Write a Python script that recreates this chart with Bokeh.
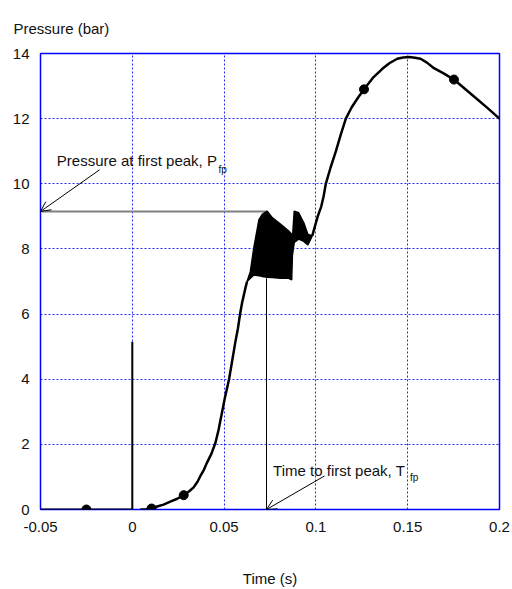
from bokeh.plotting import figure
from bokeh.models import Range1d, FixedTicker, Label, Arrow, OpenHead
from bokeh.embed import file_html
from bokeh.resources import INLINE

# ---- data ----
pre_t = [-0.05, 0.0, 0.0, 0.0]
pre_p = [0.0, 0.0, 5.15, 0.0]

rise_t = [0.0044, 0.0075, 0.0102, 0.0135, 0.017, 0.0207, 0.0245, 0.028, 0.031, 0.0334,
          0.0355, 0.0371, 0.039, 0.0407, 0.043, 0.0453, 0.047, 0.0488, 0.0505, 0.0527,
          0.0545, 0.056, 0.0575, 0.0587, 0.0598, 0.0609, 0.0617, 0.0625]
rise_p = [0.0, 0.01, 0.04, 0.09, 0.15, 0.24, 0.33, 0.44, 0.56, 0.68,
          0.85, 1.03, 1.22, 1.44, 1.7, 2.05, 2.45, 2.96, 3.45, 4.0,
          4.6, 5.1, 5.55, 6.0, 6.35, 6.62, 6.82, 7.0]

band_t = [0.0625, 0.0643, 0.0662, 0.069, 0.0708, 0.0735, 0.0762, 0.0807, 0.0852, 0.0868,
          0.0872, 0.0882, 0.0906, 0.0934, 0.0956, 0.098]
band_hi = [7.0, 7.3, 8.04, 8.9, 9.06, 9.16, 8.96, 8.76, 8.55, 8.45,
           8.3, 9.16, 9.11, 8.8, 8.45, 8.4]
band_lo = [7.0, 7.1, 7.2, 7.18, 7.15, 7.13, 7.12, 7.1, 7.1, 7.05,
           7.8, 8.2, 8.3, 8.23, 8.12, 8.4]

post_t = [0.098, 0.0995, 0.101, 0.1029, 0.1042, 0.1054, 0.108, 0.1109, 0.1135, 0.1163,
          0.1195, 0.123, 0.1262, 0.131, 0.1362, 0.14, 0.1443, 0.1475, 0.1507, 0.154,
          0.157, 0.1605, 0.1643, 0.1698, 0.1752, 0.1861, 0.1934, 0.2]
post_p = [8.4, 8.7, 9.0, 9.3, 9.62, 10.0, 10.5, 11.0, 11.5, 12.0,
          12.35, 12.65, 12.9, 13.25, 13.53, 13.7, 13.84, 13.88, 13.89, 13.87,
          13.84, 13.72, 13.55, 13.38, 13.2, 12.68, 12.33, 12.0]

marker_t = [-0.025, 0.0105, 0.028, 0.1262, 0.1752]
marker_p = [0.0, 0.03, 0.44, 12.9, 13.2]

peak_t = 0.0731
peak_p = 9.15

x_ticks = [-0.05, 0.0, 0.05, 0.1, 0.15, 0.2]
x_labels = ["-0.05", "0", "0.05", "0.1", "0.15", "0.2"]
y_ticks = [0, 2, 4, 6, 8, 10, 12, 14]

FONT = "Liberation Sans"

p = figure(width=512, height=589, output_backend="svg", toolbar_location=None,
           x_range=Range1d(-0.05, 0.2), y_range=Range1d(0, 14),
           min_border_left=40, min_border_right=13, min_border_top=52, min_border_bottom=79,
           title="Pressure (bar)")
p.background_fill_color = "white"
p.border_fill_color = "white"
p.outline_line_color = "#0000ff"
p.outline_line_width = 1.5

p.title.align = "left"
p.title.offset = -27
p.title.standoff = 34
p.title.text_font = FONT
p.title.text_font_size = "15px"
p.title.text_font_style = "normal"
p.title.text_color = "#111111"

for ax in (p.xaxis[0], p.yaxis[0]):
    ax.axis_line_color = None
    ax.major_tick_line_color = None
    ax.minor_tick_line_color = None
    ax.major_tick_in = 0
    ax.major_tick_out = 0
    ax.minor_tick_in = 0
    ax.minor_tick_out = 0
    ax.major_label_text_font = FONT
    ax.major_label_text_font_size = "15px"
    ax.major_label_text_color = "#111111"

p.xaxis.ticker = FixedTicker(ticks=x_ticks)
p.xaxis.major_label_overrides = {t: l for t, l in zip(x_ticks, x_labels)}
p.xaxis.major_label_standoff = 12
p.xaxis.axis_label = "Time (s)"
p.xaxis.axis_label_text_font = FONT
p.xaxis.axis_label_text_font_size = "15px"
p.xaxis.axis_label_text_font_style = "normal"
p.xaxis.axis_label_text_color = "#111111"
p.xaxis.axis_label_standoff = 35
p.yaxis.ticker = FixedTicker(ticks=y_ticks)
p.yaxis.major_label_standoff = 11

for g in (p.xgrid[0], p.ygrid[0]):
    g.grid_line_color = "#0000ff"
    g.grid_line_dash = "2 2"
    g.grid_line_width = 1
    g.grid_line_alpha = 0.85

# annotation guide lines
p.line([x_ticks[0], peak_t], [peak_p, peak_p], line_color="#808080", line_width=2)
p.line([peak_t, peak_t], [0, 7.1], line_color="black", line_width=1)

# data
p.line(pre_t, pre_p, line_color="black", line_width=2)
p.line(rise_t, rise_p, line_color="black", line_width=2.5)
p.varea(x=band_t, y1=band_lo, y2=band_hi, fill_color="black")
p.line(band_t, band_hi, line_color="black", line_width=1.5)
p.line(band_t, band_lo, line_color="black", line_width=1.5)
p.line(post_t, post_p, line_color="black", line_width=2.5)
p.scatter(marker_t, marker_p, size=9, color="black")

# arrows
p.add_layout(Arrow(end=OpenHead(size=10, line_color="black", line_width=1),
                   x_start=-0.0178, y_start=10.43, x_end=-0.05, y_end=peak_p,
                   line_color="black", line_width=1))
p.add_layout(Arrow(end=OpenHead(size=10, line_color="black", line_width=1),
                   x_start=0.1047, y_start=1.03, x_end=peak_t, y_end=0.0,
                   line_color="black", line_width=1))

def lab(x, y, text, size="15px"):
    p.add_layout(Label(x=x, y=y, text=text, text_font=FONT, text_font_size=size,
                       text_color="#111111", text_align="left", text_baseline="alphabetic"))

lab(-0.0411, 10.71, "Pressure at first peak, P")
lab(0.0469, 10.44, "fp", size="10px")
lab(0.0767, 1.2, "Time to first peak, T")
lab(0.1512, 0.99, "fp", size="10px")

open("out.html", "w").write(file_html(p, INLINE))
